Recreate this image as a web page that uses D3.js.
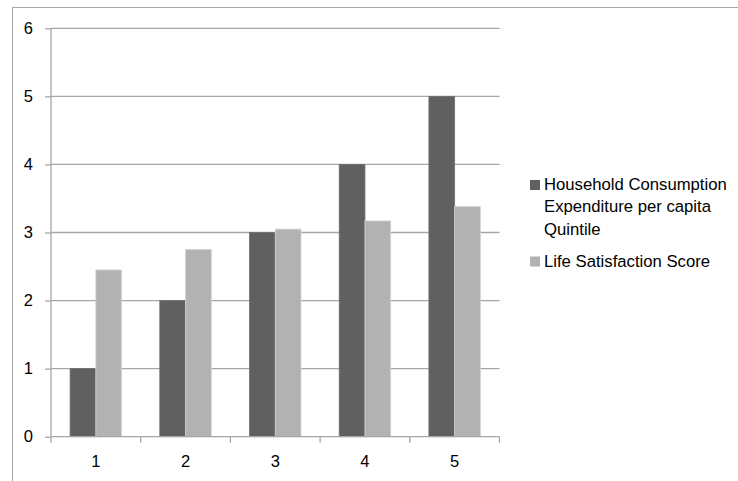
<!DOCTYPE html>
<html>
<head>
<meta charset="utf-8">
<script src="https://cdn.jsdelivr.net/npm/d3@7"></script>
<style>
html,body{margin:0;padding:0;background:#fff;}
svg{display:block;font-family:"Liberation Sans",Arial,sans-serif;}
</style>
</head>
<body>
<svg id="chart" width="738" height="481"></svg>
<script>
const categories = ["1","2","3","4","5"];
const seriesNames = ["Household Consumption Expenditure per capita Quintile","Life Satisfaction Score"];
const householdValues = [1,2,3,4,5];
const lifeSatValues = [2.45,2.75,3.05,3.17,3.38];
const yTicks = [0,1,2,3,4,5,6];
const legendLines = [["Household Consumption","Expenditure per capita","Quintile"],["Life Satisfaction Score"]];

(function(){
const colors = ["#606060","#b2b2b2"];
const svg = d3.select("#chart");

// outer frame
svg.append("path")
  .attr("d","M12.5,481 L12.5,7.5 L738,7.5")
  .attr("fill","none").attr("stroke","#a6a6a6").attr("stroke-width",1);

const pLeft = 51, pRight = 499.5, pTop = 28.3, pBottom = 436.7;
const x = d3.scaleBand().domain(categories).range([pLeft,pRight]).paddingInner(0.426).paddingOuter(0.213);
const xs = d3.scaleBand().domain([0,1]).range([0,x.bandwidth()]);
const y = d3.scaleLinear().domain([0,6]).range([pBottom,pTop]);

// gridlines
svg.append("g").selectAll("line").data(yTicks.filter(d=>d>0)).join("line")
  .attr("x1",pLeft).attr("x2",pRight)
  .attr("y1",d=>y(d)).attr("y2",d=>y(d))
  .attr("stroke","#a6a6a6").attr("stroke-width",1.3);

// bars
const data = categories.map((c,i)=>({c, vals:[householdValues[i], lifeSatValues[i]]}));
const g = svg.append("g");
g.selectAll("g").data(data).join("g")
  .attr("transform",d=>`translate(${x(d.c)},0)`)
  .selectAll("rect").data(d=>d.vals.map((v,k)=>({v,k}))).join("rect")
  .attr("x",d=>xs(d.k)).attr("width",xs.bandwidth())
  .attr("y",d=>y(d.v)).attr("height",d=>pBottom-y(d.v))
  .attr("fill",d=>colors[d.k])
  .attr("stroke",d=>d.k===1?"#d4d4d4":"#6e6e6e").attr("stroke-width",0.8);

// y axis
const yAxis = d3.axisLeft(y).tickValues(yTicks).tickSize(6).tickPadding(12).tickFormat(d3.format("d"));
const ya = svg.append("g").attr("transform",`translate(${pLeft},0)`).call(yAxis);
ya.select(".domain").attr("stroke","#a6a6a6").attr("stroke-width",1.3).attr("d",`M0,${pTop}V${pBottom}`);
ya.selectAll(".tick line").attr("stroke","#a6a6a6").attr("stroke-width",1.3);
ya.selectAll(".tick text").attr("font-size",16.5).attr("fill","#000").attr("font-family","Liberation Sans, Arial, sans-serif");

// x axis
const xTickPos = categories.map(c=>x(c)-x.step()*x.paddingInner()/2).concat([pRight]);
const xa = svg.append("g");
xa.append("line").attr("x1",pLeft).attr("x2",pRight).attr("y1",pBottom).attr("y2",pBottom)
  .attr("stroke","#a6a6a6").attr("stroke-width",1.3);
xa.selectAll("line.t").data(xTickPos).join("line").attr("class","t")
  .attr("x1",d=>d).attr("x2",d=>d).attr("y1",pBottom).attr("y2",pBottom+6)
  .attr("stroke","#a6a6a6").attr("stroke-width",1.3);
xa.selectAll("text").data(categories).join("text")
  .attr("x",d=>x(d)+x.bandwidth()/2).attr("y",467)
  .attr("text-anchor","middle").attr("font-size",16.5).attr("fill","#000").text(d=>d);

// legend
const legendY = [190, 266.5];
const lg = svg.append("g");
legendLines.forEach((lines,k)=>{
  lg.append("rect").attr("x",530).attr("y",legendY[k]-10).attr("width",10).attr("height",10).attr("fill",colors[k]);
  const t = lg.append("text").attr("x",544).attr("y",legendY[k]).attr("font-size",16.7).attr("fill","#000");
  lines.forEach((ln,j)=>{
    t.append("tspan").attr("x",544).attr("dy",j===0?0:22.3).text(ln);
  });
});
})();
</script>
</body>
</html>
